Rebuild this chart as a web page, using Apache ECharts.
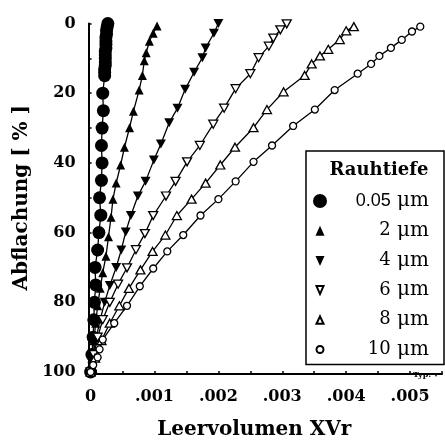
<!DOCTYPE html>
<html>
<head>
<meta charset="utf-8">
<script src="https://cdn.jsdelivr.net/npm/echarts@6/dist/echarts.min.js"></script>
<style>html,body{margin:0;padding:0;background:#fff}#c{width:445px;height:445px}</style>
</head>
<body>
<div id="c"></div>
<script>
// Rauhtiefe series names
const names = ['0.05', '2', '4', '6', '8', '10'];

// 0.05 µm
const x005 = [0.00027,0.00026,0.00025,0.00025,0.00024,0.00024,0.00024,0.00024,0.00023,0.00023,0.00023,0.00023,0.00023,0.00022,0.00022,0.00022,0.00019,0.00020,0.00018,0.00017,0.00018,0.00017,0.00014,0.00016,0.00013,0.00011,0.00007,0.00008,0.00006,0.00005,0.00004,0.00002,0.0];
const y005 = [0,1,2,3,4,5,6,7,8,9,10,11,12,13,14,15,20,25,30,35,40,45,50,55,60,65,70,75,80,85,90,95,100];

// 2 µm
const x2 = [0.00104,0.00098,0.00092,0.00087,0.00084,0.00081,0.00076,0.00067,0.00061,0.00053,0.00047,0.00040,0.00035,0.00032,0.00028,0.00024,0.00019,0.00015,0.00011,0.00008,0.00005,0.00002,0.0];
const y2 = [0.7,2.8,5.1,8.4,10.7,14.9,19.1,25.2,29.9,35.5,40.6,45.8,50.4,55.6,61.2,66.8,71.5,76,81,86,91,96,100];

// 4 µm
const x4 = [0.00200,0.00193,0.00180,0.00175,0.00162,0.00148,0.00136,0.00123,0.00110,0.00099,0.00086,0.00074,0.00063,0.00055,0.00048,0.00040,0.00030,0.00022,0.00015,0.00009,0.00004,0.0];
const y4 = [0,2.8,7,9.8,14,18.9,24.3,28.5,34.6,39.2,45.3,49.5,55.1,59.8,65,70,75.2,80,85,90,95,100];

// 6 µm
const x6 = [0.00307,0.00297,0.00286,0.00279,0.00263,0.00250,0.00227,0.00209,0.00192,0.00171,0.00151,0.00133,0.00118,0.00098,0.00085,0.00071,0.00057,0.00043,0.00030,0.00019,0.00011,0.00005,0.0];
const y6 = [0.1,1.8,4.2,6.5,9.8,14.4,18.7,24.3,28.9,35,39.7,45.3,49.5,55.1,60.3,64.9,70.1,74.8,80,85,90,95,100];

// 8 µm
const x8 = [0.00412,0.00400,0.00390,0.00372,0.00359,0.00346,0.00335,0.00302,0.00276,0.00255,0.00226,0.00203,0.00180,0.00158,0.00135,0.00117,0.00097,0.00078,0.00060,0.00045,0.00030,0.00017,0.00007,0.0];
const y8 = [0.9,2.1,4.6,7.4,9.3,11.6,14.9,19.6,24.7,29.9,35.5,40.6,45.8,50.4,55.1,60.7,65.4,70.7,76,81,86,91,96,100];

// 10 µm
const x10 = [0.00516,0.00503,0.00487,0.00470,0.00452,0.00439,0.00418,0.00382,0.00351,0.00317,0.00284,0.00255,0.00227,0.00200,0.00172,0.00145,0.00120,0.00098,0.00077,0.00057,0.00037,0.00019,0.00014,0.00011,0.00004,0.0];
const y10 = [0.9,2.3,4.7,7.0,9.3,11.6,14.4,19.1,24.7,29.4,35,39.7,45.3,50.4,55.1,60.7,65.4,70.3,75.4,81,86,90.7,93.5,95.8,98,100];

// axis tick labels
const xTickLabels = {0:'0', 2:'.001', 4:'.002', 6:'.003', 8:'.004', 10:'.005'};
const yTickLabels = [0, 20, 40, 60, 80, 100];

const SERIF = '"DejaVu Serif", serif';
const down = 'path://M0,0L10,0L5,9Z';
const legUp = 'path://M0,0M14,14M2.5,12L11.5,12L7,2Z';
const legDown = 'path://M0,0M14,14M2.5,2.5L11.5,2.5L7,12.5Z';
const legUpHollow = 'path://M0,0M14,14M3.5,11L10.5,11L7,3.5Z';
const legDownHollow = 'path://M0,0M14,14M3.5,3L10.5,3L7,11Z';
const legSmallCircle = 'path://M0,0M14,14M3.5,7A3.5,3.5,0,1,1,10.5,7A3.5,3.5,0,1,1,3.5,7Z';

function pairs(xs, ys) { return xs.map((x, i) => [x, ys[i]]); }

const filled = {color:'#000', borderColor:'#000', borderWidth:0};
const hollow = {color:'#fff', borderColor:'#000', borderWidth:1.3};
const specs = [
  {x:x005, y:y005, symbol:'circle', size:13, style:filled},
  {x:x2, y:y2, symbol:'triangle', size:[9,9], style:filled},
  {x:x4, y:y4, symbol:down, size:[10,9], style:filled},
  {x:x6, y:y6, symbol:down, size:[9,8], style:hollow},
  {x:x8, y:y8, symbol:'triangle', size:[9,8], style:hollow},
  {x:x10, y:y10, symbol:'circle', size:7, style:hollow}
];

const series = specs.map((s, i) => ({
  name: names[i],
  type: 'line',
  data: pairs(s.x, s.y),
  symbol: s.symbol,
  symbolSize: s.size,
  showAllSymbol: true,
  lineStyle: {color:'#000', width:1.3},
  itemStyle: s.style,
  animation: false,
  z: 2 + i
}));

const chart = echarts.init(document.getElementById('c'), null, {renderer:'canvas'});
chart.setOption({
  backgroundColor: '#fff',
  animation: false,
  grid: {left: 90.6, top: 23.5, right: 0, bottom: 65, containLabel: false},
  title: [
    {text:'Rauhtiefe', left: 374, top: 156, textAlign:'center',
     textStyle:{fontFamily:SERIF, fontWeight:'bold', fontSize:18, color:'#000'}},
    {text:'Typ: \u25BE', right: 2, top: 366,
     textStyle:{fontFamily:SERIF, fontWeight:'bold', fontSize:8, color:'#000'}}
  ],
  legend: {
    left: 306, top: 151, orient: 'vertical',
    borderColor:'#000', borderWidth:1.5, borderRadius:0,
    padding: [40, 15, 5, 6],
    itemWidth: 14, itemHeight: 14, itemGap: 9.7,
    selectedMode: false,
    data: [
      {name:'0.05', icon:'circle'},
      {name:'2', icon:legUp},
      {name:'4', icon:legDown},
      {name:'6', icon:legDownHollow},
      {name:'8', icon:legUpHollow},
      {name:'10', icon:legSmallCircle}
    ],
    formatter: function (n) {
      return (n === '0.05' ? '{s|' + n + '}' : '{n|' + n + '}') + '{u| \u03bcm}';
    },
    textStyle: {
      color:'#000', width: 97,
      rich: {
        s: {fontFamily:'"Liberation Sans", Arial, sans-serif', fontSize:18, align:'right', color:'#000'},
        n: {fontFamily:SERIF, fontSize:18, align:'right', color:'#000'},
        u: {fontFamily:SERIF, fontSize:20, align:'right', color:'#000'}
      }
    }
  },
  xAxis: {
    type: 'value', min: 0, max: 0.0055, interval: 0.0005, offset: 2,
    name: 'Leervolumen XVr', nameLocation: 'middle', nameGap: 46,
    nameTextStyle: {fontFamily:SERIF, fontWeight:'bold', fontSize:20, color:'#000', padding:[0,24,0,0]},
    axisLine: {show:true, onZero:false, lineStyle:{color:'#000', width:2}},
    axisTick: {show:true, inside:true, length:3, lineStyle:{color:'#000', width:1.5}},
    splitLine: {show:false},
    axisLabel: {
      margin: 15, color:'#000', fontFamily:SERIF, fontWeight:'bold', fontSize:16,
      formatter: function (v) { const k = Math.round(v / 0.0005); return xTickLabels[k] !== undefined ? xTickLabels[k] : ''; }
    }
  },
  yAxis: {
    type: 'value', inverse: true, min: 0, max: 100, interval: 10, offset: 2,
    name: 'Abflachung [ % ]', nameLocation: 'middle', nameGap: 56, nameRotate: 90,
    nameTextStyle: {fontFamily:SERIF, fontWeight:'bold', fontSize:20, color:'#000'},
    axisLine: {show:true, onZero:false, lineStyle:{color:'#000', width:2}},
    axisTick: {show:true, inside:true, length:3, lineStyle:{color:'#000', width:1.5}},
    splitLine: {show:false},
    axisLabel: {
      margin: 13, color:'#000', fontFamily:SERIF, fontWeight:'bold', fontSize:16,
      formatter: function (v) { const r = Math.round(v); return yTickLabels.indexOf(r) >= 0 ? String(r) : ''; }
    }
  },
  series: series
});
</script>
</body>
</html>
